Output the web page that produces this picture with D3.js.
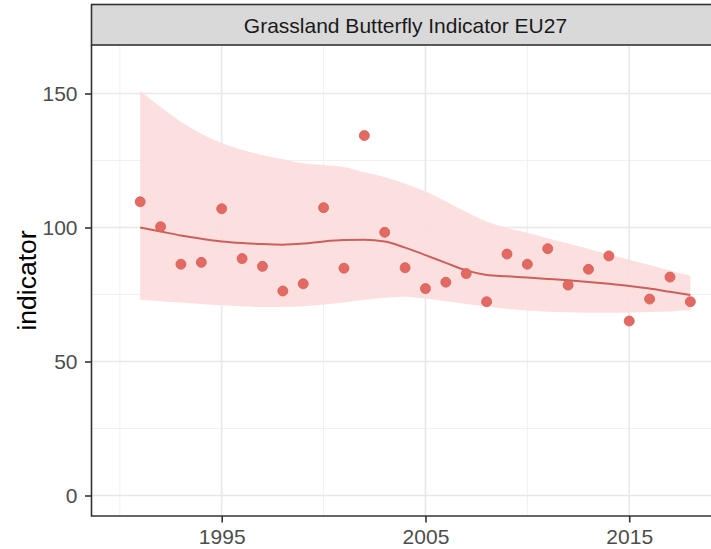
<!doctype html>
<html lang="en">
  <head>
    <meta charset="utf-8">
    <title>Grassland Butterfly Indicator EU27</title>
    <script src="https://d3js.org/d3.v7.min.js"></script>
    <style>
      body { margin: 0; background: #fff; }
      svg { display: block; font-family: "Liberation Sans", Arial, sans-serif; }
    </style>
  </head>

  <body>
    <svg width="711" height="549"></svg>

    <script>
      // data
      var years = d3.range(1991, 2019);
      var indicator = [109.6, 100.3, 86.3, 87.0, 107.0, 88.4, 85.5, 76.3, 79.0, 107.4,
                       84.8, 134.3, 98.2, 85.0, 77.2, 79.6, 82.8, 72.3, 90.1, 86.3,
                       92.1, 78.5, 84.4, 89.4, 65.1, 73.3, 81.5, 72.3];
      var trend = [100, 98.5, 97, 95.8, 94.8, 94.2, 93.8, 93.6, 94, 94.8,
                   95.3, 95.4, 94.8, 92.5, 89.7, 86.8, 84, 82.3, 81.8, 81.3,
                   80.8, 80.3, 79.7, 79, 78.2, 77.2, 76, 74.8];
      var upper = [151, 145, 139.5, 135, 131.5, 129, 127, 125.5, 124, 123.3,
                   122.6, 120.6, 118.8, 116.3, 113.4, 109.7, 105.8, 102.2, 99.8, 98,
                   96, 94, 92, 90, 88, 86, 84, 82];
      var lower = [73, 72.5, 72, 71.5, 71, 70.6, 70.3, 70.3, 70.6, 71.3,
                   72, 73, 73.8, 74.2, 73.5, 72.5, 71.5, 70.5, 69.6, 69,
                   68.6, 68.4, 68.2, 68.2, 68.3, 68.5, 68.7, 69.2];
      var yTicks = [0, 50, 100, 150];
      var yMinor = [25, 75, 125];
      var xTicks = [1995, 2005, 2015];
      var xMinor = [1990, 2000, 2010, 2020];
      var title = 'Grassland Butterfly Indicator EU27';

      var svg = d3.select('svg');

      var pLeft = 91.5, pRight = 719.5, pTop = 45, pBottom = 516;

      var x = d3.scaleLinear().domain([1988.61, 2019.43]).range([pLeft, pRight]);
      var y = d3.scaleLinear().domain([-7.65, 168.1]).range([pBottom, pTop]);

      var rows = years.map(function(yr, i){
        return { year: yr, value: indicator[i], fit: trend[i], hi: upper[i], lo: lower[i] };
      });

      // grid
      var grid = svg.append('g');
      grid.selectAll('.ymin').data(yMinor).enter().append('line')
          .attr('x1', pLeft).attr('x2', pRight)
          .attr('y1', y).attr('y2', y)
          .attr('stroke', '#F0F0F0').attr('stroke-width', 1);
      grid.selectAll('.xmin').data(xMinor).enter().append('line')
          .attr('x1', x).attr('x2', x)
          .attr('y1', pTop).attr('y2', pBottom)
          .attr('stroke', '#F0F0F0').attr('stroke-width', 1);
      grid.selectAll('.ymaj').data(yTicks).enter().append('line')
          .attr('x1', pLeft).attr('x2', pRight)
          .attr('y1', y).attr('y2', y)
          .attr('stroke', '#E8E8E8').attr('stroke-width', 1.6);
      grid.selectAll('.xmaj').data(xTicks).enter().append('line')
          .attr('x1', x).attr('x2', x)
          .attr('y1', pTop).attr('y2', pBottom)
          .attr('stroke', '#E8E8E8').attr('stroke-width', 1.6);

      // ribbon
      var area = d3.area()
          .x(function(d){ return x(d.year); })
          .y0(function(d){ return y(d.lo); })
          .y1(function(d){ return y(d.hi); })
          .curve(d3.curveMonotoneX);
      svg.append('path').datum(rows)
          .attr('d', area)
          .attr('fill', '#FCDDDC')
          .attr('fill-opacity', 0.9);

      // smoothed line
      var line = d3.line()
          .x(function(d){ return x(d.year); })
          .y(function(d){ return y(d.fit); })
          .curve(d3.curveMonotoneX);
      svg.append('path').datum(rows)
          .attr('d', line)
          .attr('fill', 'none')
          .attr('stroke', '#CC5F5B')
          .attr('stroke-width', 2);

      // points
      svg.selectAll('circle').data(rows).enter().append('circle')
          .attr('cx', function(d){ return x(d.year); })
          .attr('cy', function(d){ return y(d.value); })
          .attr('r', 5)
          .attr('fill', '#E36A63')
          .attr('stroke', '#D45D57')
          .attr('stroke-width', 0.8);

      // axes
      var yAxis = svg.append('g')
          .attr('transform', 'translate(' + pLeft + ',0)')
          .call(d3.axisLeft(y).tickValues(yTicks).tickSize(6.5).tickSizeOuter(0).tickPadding(7.5));
      var xAxis = svg.append('g')
          .attr('transform', 'translate(0,' + pBottom + ')')
          .call(d3.axisBottom(x).tickValues(xTicks).tickFormat(d3.format('d')).tickSize(6.5).tickSizeOuter(0).tickPadding(6.5));

      [yAxis, xAxis].forEach(function(ax){
        ax.select('.domain').remove();
        ax.selectAll('.tick line').attr('stroke', '#333').attr('stroke-width', 1.6);
        ax.selectAll('.tick text').attr('fill', '#4D4D4D').style('font-size', '21px');
      });

      svg.append('line')
          .attr('x1', pLeft).attr('x2', pLeft)
          .attr('y1', pTop).attr('y2', pBottom + 0.8)
          .attr('stroke', '#333').attr('stroke-width', 1.6);
      svg.append('line')
          .attr('x1', pLeft).attr('x2', 711)
          .attr('y1', pBottom).attr('y2', pBottom)
          .attr('stroke', '#333').attr('stroke-width', 1.6);

      // strip
      svg.append('rect')
          .attr('x', pLeft).attr('y', 4.5)
          .attr('width', pRight - pLeft).attr('height', pTop - 4.5)
          .attr('fill', '#D9D9D9')
          .attr('stroke', '#333').attr('stroke-width', 1.6);
      svg.append('text')
          .attr('x', (pLeft + pRight) / 2).attr('y', 33)
          .attr('text-anchor', 'middle')
          .attr('fill', '#1A1A1A')
          .style('font-size', '21px')
          .text(title);

      // axis title
      svg.append('text')
          .attr('transform', 'translate(36,' + (pTop + pBottom) / 2 + ') rotate(-90)')
          .attr('text-anchor', 'middle')
          .attr('fill', '#000')
          .style('font-size', '26.5px')
          .text('indicator');
    </script>
  </body>
</html>
